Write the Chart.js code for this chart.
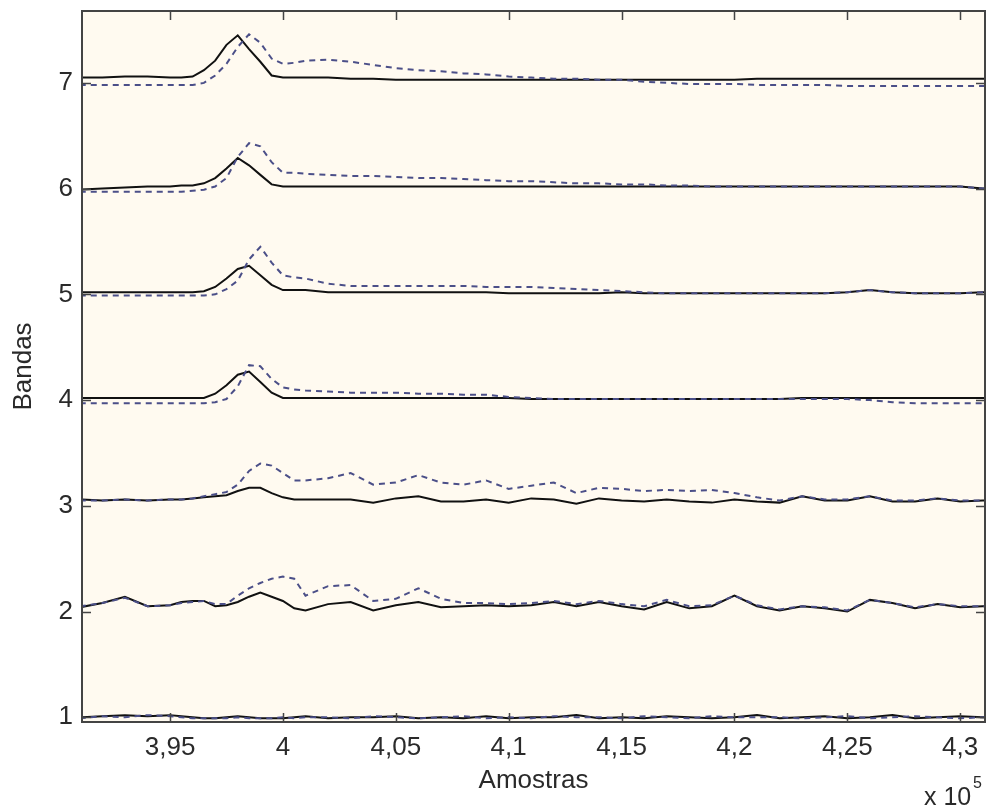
<!DOCTYPE html>
<html>
<head>
<meta charset="utf-8">
<script src="https://cdn.jsdelivr.net/npm/chart.js@4.4.1/dist/chart.umd.min.js"></script>
<style>
  html, body { margin: 0; padding: 0; background: #fff; }
  canvas { display: block; }
</style>
</head>
<body>
<canvas id="bandas" width="988" height="808"></canvas>
<script>
// eixo x: amostras (mais densas perto do pico)
const amostras = [
  391000, 392000, 393000, 394000, 395000,
  395500, 396000, 396500, 397000, 397500, 398000, 398500, 399000, 399500, 400000, 400500, 401000,
  402000, 403000, 404000, 405000, 406000, 407000, 408000, 409000, 410000, 411000,
  412000, 413000, 414000, 415000, 416000, 417000, 418000, 419000, 420000, 421000,
  422000, 423000, 424000, 425000, 426000, 427000, 428000, 429000, 430000, 431000, 432000
];

const xTicks = [395000, 400000, 405000, 410000, 415000, 420000, 425000, 430000];
const yTicks = [1, 2, 3, 4, 5, 6, 7];

// linha continua (preta) e tracejada (azul) por banda
const banda7Solida = [
  7.05, 7.05, 7.06, 7.06, 7.05,
  7.05, 7.06, 7.12, 7.21, 7.36, 7.45, 7.32, 7.20, 7.07, 7.05, 7.05, 7.05,
  7.05, 7.04, 7.04, 7.03, 7.03, 7.03, 7.03, 7.03, 7.03, 7.03,
  7.03, 7.03, 7.03, 7.03, 7.03, 7.03, 7.03, 7.03, 7.03, 7.04,
  7.04, 7.04, 7.04, 7.04, 7.04, 7.04, 7.04, 7.04, 7.04, 7.04, 7.04
];
const banda7Tracejada = [
  6.98, 6.98, 6.98, 6.98, 6.98,
  6.98, 6.98, 7.00, 7.07, 7.18, 7.34, 7.46, 7.38, 7.23, 7.18, 7.19, 7.21,
  7.22, 7.20, 7.17, 7.14, 7.12, 7.11, 7.09, 7.08, 7.06, 7.05,
  7.04, 7.04, 7.03, 7.03, 7.01, 7.00, 6.99, 6.99, 6.99, 6.98,
  6.98, 6.98, 6.98, 6.97, 6.97, 6.97, 6.97, 6.97, 6.97, 6.97, 6.97
];
const banda6Solida = [
  5.99, 6.00, 6.01, 6.02, 6.02,
  6.03, 6.03, 6.05, 6.10, 6.19, 6.29, 6.22, 6.13, 6.04, 6.02, 6.02, 6.02,
  6.02, 6.02, 6.02, 6.02, 6.02, 6.02, 6.02, 6.02, 6.02, 6.02,
  6.02, 6.02, 6.02, 6.02, 6.02, 6.02, 6.02, 6.02, 6.02, 6.02,
  6.02, 6.02, 6.02, 6.02, 6.02, 6.02, 6.02, 6.02, 6.02, 6.00, 6.00
];
const banda6Tracejada = [
  5.97, 5.97, 5.97, 5.97, 5.97,
  5.97, 5.98, 5.99, 6.02, 6.10, 6.30, 6.43, 6.40, 6.25, 6.15, 6.15, 6.14,
  6.13, 6.12, 6.12, 6.11, 6.10, 6.10, 6.09, 6.08, 6.07, 6.07,
  6.06, 6.05, 6.05, 6.04, 6.04, 6.03, 6.03, 6.02, 6.02, 6.02,
  6.02, 6.02, 6.02, 6.02, 6.02, 6.02, 6.02, 6.02, 6.02, 6.00, 6.00
];
const banda5Solida = [
  5.02, 5.02, 5.02, 5.02, 5.02,
  5.02, 5.02, 5.03, 5.07, 5.15, 5.24, 5.27, 5.18, 5.09, 5.04, 5.04, 5.04,
  5.02, 5.02, 5.02, 5.02, 5.02, 5.02, 5.02, 5.02, 5.01, 5.01,
  5.01, 5.01, 5.01, 5.02, 5.01, 5.01, 5.01, 5.01, 5.01, 5.01,
  5.01, 5.01, 5.01, 5.02, 5.04, 5.02, 5.01, 5.01, 5.01, 5.02, 5.02
];
const banda5Tracejada = [
  4.99, 4.99, 4.99, 4.99, 4.99,
  4.99, 4.99, 4.99, 5.00, 5.05, 5.13, 5.33, 5.45, 5.30, 5.18, 5.16, 5.15,
  5.10, 5.08, 5.08, 5.08, 5.08, 5.08, 5.08, 5.07, 5.07, 5.07,
  5.06, 5.05, 5.04, 5.03, 5.02, 5.01, 5.01, 5.01, 5.01, 5.01,
  5.01, 5.01, 5.01, 5.02, 5.04, 5.02, 5.01, 5.01, 5.01, 5.02, 5.02
];
const banda4Solida = [
  4.02, 4.02, 4.02, 4.02, 4.02,
  4.02, 4.02, 4.02, 4.06, 4.14, 4.24, 4.27, 4.17, 4.07, 4.02, 4.02, 4.02,
  4.02, 4.02, 4.02, 4.02, 4.02, 4.02, 4.02, 4.02, 4.02, 4.01,
  4.01, 4.01, 4.01, 4.01, 4.01, 4.01, 4.01, 4.01, 4.01, 4.01,
  4.01, 4.02, 4.02, 4.02, 4.02, 4.02, 4.02, 4.02, 4.02, 4.02, 4.02
];
const banda4Tracejada = [
  3.97, 3.97, 3.97, 3.97, 3.97,
  3.97, 3.97, 3.97, 3.98, 4.01, 4.13, 4.33, 4.32, 4.20, 4.12, 4.10, 4.09,
  4.08, 4.07, 4.07, 4.07, 4.06, 4.06, 4.05, 4.05, 4.03, 4.02,
  4.01, 4.01, 4.01, 4.01, 4.01, 4.01, 4.01, 4.01, 4.01, 4.01,
  4.01, 4.01, 4.01, 4.01, 4.00, 3.98, 3.97, 3.97, 3.97, 3.97, 3.97
];
const banda3Solida = [
  3.06, 3.05, 3.06, 3.05, 3.06,
  3.06, 3.07, 3.08, 3.09, 3.10, 3.14, 3.17, 3.17, 3.12, 3.08, 3.06, 3.06,
  3.06, 3.06, 3.03, 3.07, 3.09, 3.04, 3.04, 3.06, 3.03, 3.07,
  3.06, 3.02, 3.07, 3.05, 3.04, 3.06, 3.04, 3.03, 3.06, 3.04,
  3.03, 3.09, 3.05, 3.05, 3.09, 3.04, 3.04, 3.07, 3.04, 3.05, 3.05
];
const banda3Tracejada = [
  3.05, 3.05, 3.06, 3.05, 3.06,
  3.06, 3.07, 3.09, 3.11, 3.13, 3.20, 3.33, 3.40, 3.38, 3.31, 3.24, 3.24,
  3.26, 3.31, 3.20, 3.22, 3.29, 3.22, 3.20, 3.24, 3.16, 3.19,
  3.22, 3.12, 3.17, 3.16, 3.14, 3.15, 3.14, 3.15, 3.12, 3.08,
  3.05, 3.09, 3.06, 3.06, 3.09, 3.05, 3.05, 3.07, 3.05, 3.05, 3.05
];
const banda2Solida = [
  2.04, 2.08, 2.14, 2.05, 2.06,
  2.09, 2.10, 2.10, 2.05, 2.06, 2.09, 2.14, 2.18, 2.14, 2.10, 2.03, 2.01,
  2.07, 2.09, 2.01, 2.06, 2.09, 2.04, 2.05, 2.06, 2.05, 2.06,
  2.09, 2.05, 2.09, 2.05, 2.02, 2.09, 2.03, 2.05, 2.15, 2.05,
  2.01, 2.05, 2.03, 2.00, 2.11, 2.08, 2.03, 2.07, 2.04, 2.05, 2.05
];
const banda2Tracejada = [
  2.05, 2.08, 2.13, 2.05, 2.06,
  2.08, 2.09, 2.10, 2.07, 2.07, 2.15, 2.22, 2.27, 2.31, 2.33, 2.31, 2.15,
  2.24, 2.25, 2.10, 2.12, 2.22, 2.12, 2.08, 2.08, 2.07, 2.08,
  2.10, 2.07, 2.10, 2.07, 2.05, 2.11, 2.05, 2.06, 2.15, 2.06,
  2.02, 2.05, 2.04, 2.01, 2.11, 2.08, 2.04, 2.07, 2.05, 2.05, 2.05
];
const banda1Solida = [
  1.00, 1.01, 1.02, 1.01, 1.02,
  1.01, 1.00, 0.99, 0.99, 1.00, 1.01, 1.00, 0.99, 0.99, 0.99, 1.00, 1.01,
  0.99, 1.00, 1.00, 1.01, 0.99, 1.00, 0.99, 1.01, 0.99, 1.00,
  1.00, 1.02, 0.99, 1.00, 0.99, 1.01, 1.00, 0.99, 1.00, 1.02,
  0.99, 1.00, 1.01, 0.99, 1.00, 1.02, 0.99, 1.00, 1.01, 1.00, 1.00
];
const banda1Tracejada = [
  0.99, 1.01, 1.00, 1.02, 1.01,
  1.00, 0.99, 0.99, 0.99, 0.99, 1.00, 0.99, 0.99, 0.99, 1.00, 0.99, 1.00,
  1.00, 0.99, 1.01, 1.00, 0.99, 1.00, 1.01, 0.99, 1.00, 0.99,
  1.01, 1.00, 1.00, 0.99, 1.01, 1.00, 0.99, 1.01, 1.00, 1.00,
  1.00, 0.99, 1.00, 1.01, 0.99, 1.00, 1.01, 1.00, 0.99, 1.00, 1.00
];

const tracejadas = [banda1Tracejada, banda2Tracejada, banda3Tracejada, banda4Tracejada,
  banda5Tracejada, banda6Tracejada, banda7Tracejada];
const solidas = [banda1Solida, banda2Solida, banda3Solida, banda4Solida,
  banda5Solida, banda6Solida, banda7Solida];

const FONT = 'Liberation Sans, Arial, sans-serif';
const TEXT = '#2a2a2a';

function pontos(vals) {
  return amostras.map((x, i) => ({ x: x, y: vals[i] }));
}

const datasets = [];
tracejadas.forEach((v, i) => datasets.push({
  label: 'tracejada ' + (i + 1),
  data: pontos(v),
  borderColor: '#4b4f88',
  borderWidth: 2,
  borderDash: [6, 5],
  pointRadius: 0,
  tension: 0
}));
solidas.forEach((v, i) => datasets.push({
  label: 'solida ' + (i + 1),
  data: pontos(v),
  borderColor: '#111111',
  borderWidth: 2,
  pointRadius: 0,
  tension: 0
}));

// fundo, caixa e marcas para dentro (estilo matlab)
const moldura = {
  id: 'moldura',
  beforeDraw(chart) {
    const { ctx, chartArea: a } = chart;
    ctx.save();
    ctx.fillStyle = '#ffffff';
    ctx.fillRect(0, 0, chart.width, chart.height);
    ctx.fillStyle = '#fffaf0';
    ctx.fillRect(a.left, a.top, a.right - a.left, a.bottom - a.top);
    ctx.restore();
  },
  afterDraw(chart) {
    const { ctx, chartArea: a, scales } = chart;
    ctx.save();
    ctx.strokeStyle = '#444444';
    ctx.lineWidth = 2;
    ctx.strokeRect(a.left, a.top, a.right - a.left, a.bottom - a.top);
    ctx.beginPath();
    xTicks.forEach(v => {
      const px = Math.round(scales.x.getPixelForValue(v)) + 0.5;
      ctx.moveTo(px, a.bottom); ctx.lineTo(px, a.bottom - 9);
      ctx.moveTo(px, a.top); ctx.lineTo(px, a.top + 9);
    });
    yTicks.forEach(v => {
      const py = Math.round(scales.y.getPixelForValue(v)) + 0.5;
      ctx.moveTo(a.left, py); ctx.lineTo(a.left + 9, py);
      ctx.moveTo(a.right, py); ctx.lineTo(a.right - 9, py);
    });
    ctx.lineWidth = 1.5;
    ctx.stroke();
    // multiplicador do eixo x
    ctx.fillStyle = TEXT;
    ctx.textBaseline = 'alphabetic';
    ctx.textAlign = 'left';
    ctx.font = '25px ' + FONT;
    ctx.fillText('x 10', 924, 805);
    ctx.font = '16px ' + FONT;
    ctx.fillText('5', 973, 788);
    ctx.restore();
  }
};

new Chart(document.getElementById('bandas').getContext('2d'), {
  type: 'line',
  data: { datasets },
  options: {
    responsive: false,
    animation: false,
    layout: { padding: { top: 11, right: 3, left: 0, bottom: 0 } },
    plugins: { legend: { display: false }, tooltip: { enabled: false } },
    scales: {
      x: {
        type: 'linear',
        min: 391100,
        max: 431100,
        afterFit(s) { s.height = 86; s.paddingLeft = 0; s.paddingRight = 0; },
        afterBuildTicks(s) { s.ticks = xTicks.map(v => ({ value: v })); },
        grid: { display: false, drawTicks: false },
        border: { display: false },
        ticks: {
          color: TEXT,
          font: { family: FONT, size: 26 },
          padding: 10,
          maxRotation: 0,
          callback: v => String(v / 1e5).replace('.', ',')
        },
        title: {
          display: true,
          text: 'Amostras',
          color: TEXT,
          font: { family: FONT, size: 26 },
          padding: { top: 0, bottom: 12 }
        }
      },
      y: {
        type: 'linear',
        min: 0.955,
        max: 7.68,
        afterFit(s) { s.width = 82; s.paddingTop = 0; s.paddingBottom = 0; },
        afterBuildTicks(s) { s.ticks = yTicks.map(v => ({ value: v })); },
        grid: { display: false, drawTicks: false },
        border: { display: false },
        ticks: {
          color: TEXT,
          font: { family: FONT, size: 26 },
          padding: 9
        },
        title: {
          display: true,
          text: 'Bandas',
          color: TEXT,
          font: { family: FONT, size: 26 },
          padding: { top: 8, bottom: 0 }
        }
      }
    }
  },
  plugins: [moldura]
});
</script>
</body>
</html>
